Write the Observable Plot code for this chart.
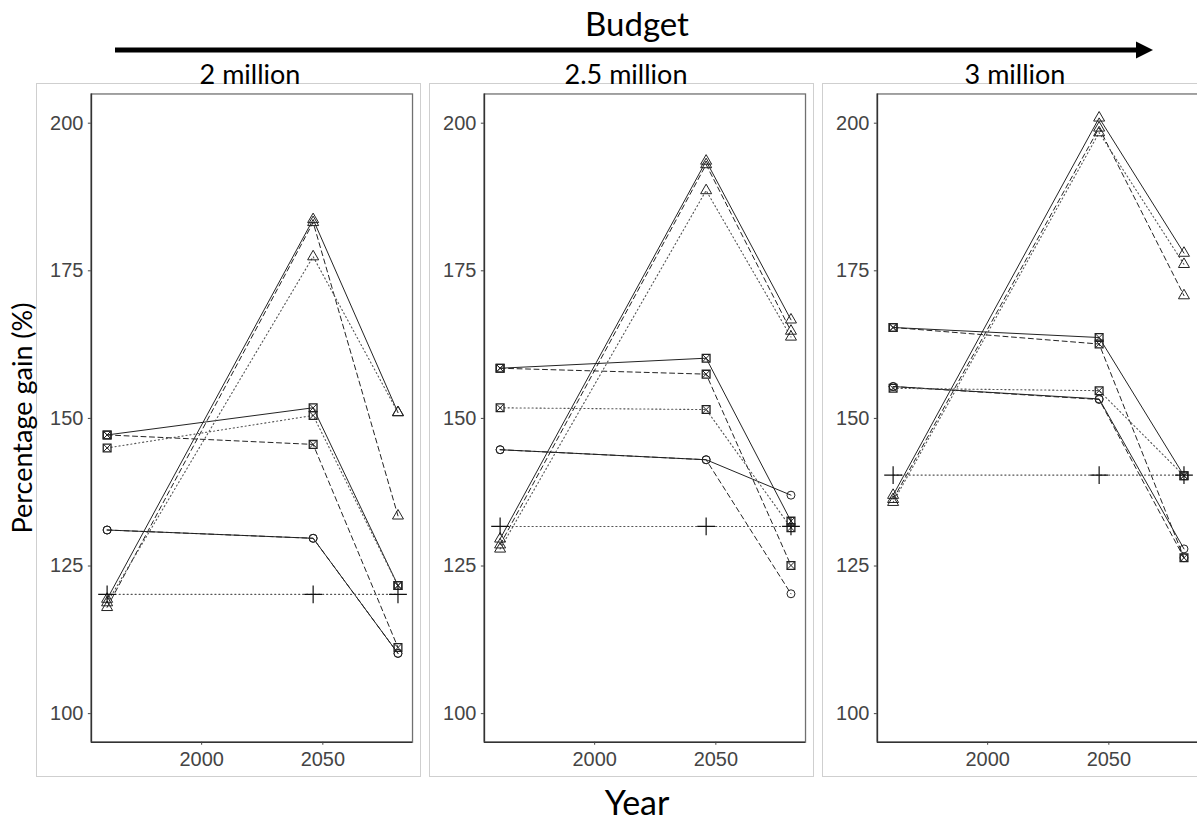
<!DOCTYPE html>
<html>
<head>
<meta charset="utf-8">
<script src="https://cdn.jsdelivr.net/npm/d3@7"></script>
<script src="https://cdn.jsdelivr.net/npm/@observablehq/plot@0.6"></script>
<style>
  html, body { margin: 0; padding: 0; background: white; }
  #root { position: relative; width: 1197px; height: 822px; overflow: hidden; background: white; font-family: Lato, "Open Sans", sans-serif; color: #000; }
  .lbl { position: absolute; white-space: nowrap; transform: translate(-50%, -50%); }
  .panel { position: absolute; top: 83px; width: 383px; height: 692px; border: 1px solid #cfcfcf; box-sizing: content-box; overflow: hidden; }
  .panel svg { display: block; }
</style>
</head>
<body>
<div id="root"></div>
<script>
// ---- data ----
const budgets = ["2 million", "2.5 million", "3 million"];
const years = [1961, 2046, 2081];
const yTicks = [100, 125, 150, 175, 200];
const xTicks = [2000, 2050];

// values per budget panel, at each of the three years
const triangleSolid  = [[119.4, 183.7, 151.0], [129.6, 193.6, 166.7], [137.0, 200.9, 178.0]];
const triangleDashed = [[118.0, 183.2, 133.5], [128.6, 193.0, 164.8], [136.3, 199.2, 170.8]];
const triangleDotted = [[118.8, 177.4, 151.0], [127.9, 188.6, 163.8], [135.8, 198.4, 176.1]];
const squareSolid    = [[147.2, 151.8, 121.7], [158.5, 160.2, 132.6], [165.4, 163.7, 140.3]];
const squareDashed   = [[147.2, 145.6, 111.2], [158.5, 157.5, 125.1], [165.4, 162.6, 126.4]];
const squareDotted   = [[145.0, 150.5, 121.7], [151.8, 151.5, 131.5], [155.1, 154.7, 140.3]];
const circleSolid    = [[131.1, 129.7, 110.2], [144.7, 143.0, 137.0], [155.4, 153.3, 127.9]];
const circleDashed   = [[131.1, 129.7, 110.2], [144.7, 143.0, 120.3], [155.4, 153.2, 126.4]];
const plusDotted     = [[120.2, 120.2, 120.2], [131.7, 131.7, 131.7], [140.4, 140.4, 140.4]];

const seriesList = [
  ["triangle", "solid", triangleSolid],
  ["triangle", "dashed", triangleDashed],
  ["triangle", "dotted", triangleDotted],
  ["square", "solid", squareSolid],
  ["square", "dashed", squareDashed],
  ["square", "dotted", squareDotted],
  ["circle", "solid", circleSolid],
  ["circle", "dashed", circleDashed],
  ["plus", "dotted", plusDotted]
];

const rows = [];
seriesList.forEach(([shape, lt, vals]) => {
  budgets.forEach((b, bi) => {
    years.forEach((yr, yi) => {
      rows.push({budget: b, series: shape + "-" + lt, shape, lt, year: yr, value: vals[bi][yi]});
    });
  });
});

const dash = {solid: null, dashed: "5,3.5", dotted: "1.2,2.8"};

const root = document.getElementById("root");

function addLabel(text, x, y, size, extra) {
  const d = document.createElement("div");
  d.className = "lbl";
  d.textContent = text;
  d.style.left = x + "px";
  d.style.top = y + "px";
  d.style.fontSize = size + "px";
  if (extra) Object.assign(d.style, extra);
  root.appendChild(d);
}

const panelLefts = [36, 429, 822];
const xDomain = [1954.5, 2087];
const yDomain = [95.15, 204.95];

budgets.forEach((b, i) => {
  const data = rows.filter(d => d.budget === b);
  const marks = [
    Plot.frame({stroke: "#707070", strokeWidth: 1.3}),
    Plot.ruleX([xDomain[0]], {stroke: "#333", strokeWidth: 1.6}),
    Plot.ruleY([yDomain[0]], {stroke: "#333", strokeWidth: 1.6}),
    Plot.axisX({ticks: xTicks, tickFormat: d => String(d), tickSize: 3, tickPadding: 7, label: null, color: "#444"}),
    Plot.axisY({ticks: yTicks, tickSize: 3, tickPadding: 5, label: null, color: "#444"})
  ];
  for (const lt of ["solid", "dashed", "dotted"]) {
    marks.push(Plot.line(data.filter(d => d.lt === lt), {
      x: "year", y: "value", z: "series",
      stroke: lt === "dotted" ? "#555" : "#222",
      strokeWidth: lt === "dotted" ? 1.1 : 1,
      strokeDasharray: dash[lt]
    }));
  }
  const sq = data.filter(d => d.shape === "square");
  marks.push(
    Plot.dot(data.filter(d => d.shape === "circle"), {x: "year", y: "value", symbol: "circle", r: 4, stroke: "#222", fill: "none", strokeWidth: 1}),
    Plot.dot(data.filter(d => d.shape === "triangle"), {x: "year", y: "value", symbol: "triangle", r: 4.1, stroke: "#222", fill: "none", strokeWidth: 1}),
    Plot.dot(sq, {x: "year", y: "value", symbol: "square", r: 4.4, stroke: "#222", fill: "none", strokeWidth: 1.3}),
    Plot.dot(sq, {x: "year", y: "value", symbol: "times", r: 3.4, stroke: "#222", fill: "none", strokeWidth: 1}),
    Plot.dot(data.filter(d => d.shape === "plus"), {x: "year", y: "value", symbol: "plus", r: 5.8, stroke: "#111", fill: "none", strokeWidth: 1.2})
  );
  const chart = Plot.plot({
    width: 384, height: 693,
    marginLeft: 54, marginRight: 8, marginTop: 9.5, marginBottom: 33.5,
    style: {fontFamily: "'Liberation Sans', Arial, sans-serif", fontSize: "20px", background: "white", overflow: "visible"},
    x: {domain: xDomain},
    y: {domain: yDomain},
    marks
  });
  const wrap = document.createElement("div");
  wrap.className = "panel";
  wrap.style.left = panelLefts[i] + "px";
  wrap.appendChild(chart);
  root.appendChild(wrap);
});

// titles
addLabel("Budget", 637, 23, 33);
addLabel(budgets[0], 250, 73, 27);
addLabel(budgets[1], 626, 73, 27);
addLabel(budgets[2], 1015, 73, 27);
addLabel("Year", 637, 801, 34);
addLabel("Percentage gain (%)", 21, 418, 27, {transform: "translate(-50%, -50%) rotate(-90deg)"});

// arrow
const svgNS = "http://www.w3.org/2000/svg";
const arr = document.createElementNS(svgNS, "svg");
arr.setAttribute("width", 1197); arr.setAttribute("height", 70);
arr.style.position = "absolute"; arr.style.left = "0px"; arr.style.top = "0px";
const shaft = document.createElementNS(svgNS, "line");
shaft.setAttribute("x1", 115); shaft.setAttribute("x2", 1140); shaft.setAttribute("y1", 50); shaft.setAttribute("y2", 50);
shaft.setAttribute("stroke", "#000"); shaft.setAttribute("stroke-width", 5);
const head = document.createElementNS(svgNS, "path");
head.setAttribute("d", "M1136,41.5 L1153,50 L1136,58.5 Z");
head.setAttribute("fill", "#000");
arr.appendChild(shaft); arr.appendChild(head);
root.appendChild(arr);
</script>
</body>
</html>
